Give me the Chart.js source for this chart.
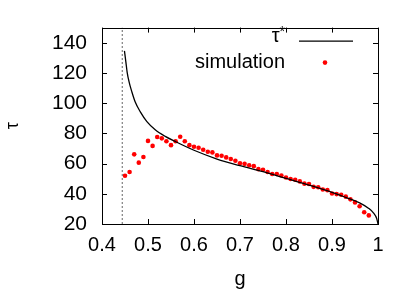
<!DOCTYPE html>
<html>
<head>
<meta charset="utf-8">
<script src="https://cdn.jsdelivr.net/npm/chart.js@4"></script>
<style>
html, body { margin: 0; padding: 0; background: #fff; }
</style>
</head>
<body>
<canvas id="tau_chart" width="415" height="291"></canvas>
<script>
// tau* curve and simulation points

const curveG = [0.4488, 0.452, 0.4547, 0.459, 0.465, 0.472, 0.483, 0.4976, 0.5157, 0.5375,
    0.560, 0.600, 0.650, 0.700, 0.750, 0.800, 0.850, 0.900, 0.930, 0.960,
    0.980, 0.990, 0.997, 1.000];
const curveTau = [134.6, 127.0, 120.4, 113.9, 107.4, 100.9, 94.4, 87.8, 82.4, 78.0,
    74.5, 68.8, 63.0, 58.6, 54.7, 50.2, 45.8, 41.0, 37.6, 34.0,
    30.3, 27.4, 23.8, 20.0];

const simG = [0.45, 0.46, 0.47, 0.48, 0.49, 0.50, 0.51, 0.52, 0.53, 0.54,
    0.55, 0.56, 0.57, 0.58, 0.59, 0.60, 0.61, 0.62, 0.63, 0.64,
    0.65, 0.66, 0.67, 0.68, 0.69, 0.70, 0.71, 0.72, 0.73, 0.74,
    0.75, 0.76, 0.77, 0.78, 0.79, 0.80, 0.81, 0.82, 0.83, 0.84,
    0.85, 0.86, 0.87, 0.88, 0.89, 0.90, 0.91, 0.92, 0.93, 0.94,
    0.95, 0.96, 0.97, 0.98];
const simTau = [51.9, 54.4, 66.1, 60.6, 64.3, 75.0, 71.7, 77.6, 76.7, 74.8,
    72.2, 74.8, 77.8, 74.8, 72.2, 71.1, 70.5, 69.1, 67.8, 67.4,
    65.4, 65.2, 64.1, 63.0, 61.9, 60.2, 59.8, 58.9, 58.3, 56.3,
    55.9, 54.4, 53.1, 53.1, 52.1, 50.8, 49.8, 49.3, 48.2, 46.7,
    46.5, 44.6, 44.3, 42.8, 42.4, 40.2, 39.8, 39.4, 38.1, 36.3,
    34.3, 31.7, 27.8, 25.7];

// critical g (dashed vertical line)
const critG = [0.444, 0.444];
const critTau = [20, 150];

const xTicks = [0.4, 0.5, 0.6, 0.7, 0.8, 0.9, 1];
const yTicks = [20, 40, 60, 80, 100, 120, 140];

const toPoints = (xs, ys) => xs.map((x, i) => ({ x: x, y: ys[i] }));

const font = 'Liberation Sans, Arial, Helvetica, sans-serif';

// gnuplot style frame with inward ticks on all four sides
const framePlugin = {
    id: 'frame',
    afterDraw(chart) {
        const ctx = chart.ctx;
        const a = chart.chartArea;
        const xs = chart.scales.x;
        const ys = chart.scales.y;
        const len = 5;
        ctx.save();
        ctx.strokeStyle = '#000';
        ctx.lineWidth = 1;
        ctx.strokeRect(Math.round(a.left) + 0.5, Math.round(a.top) + 0.5,
            Math.round(a.right - a.left), Math.round(a.bottom - a.top));
        ctx.beginPath();
        xTicks.forEach(v => {
            const px = Math.round(xs.getPixelForValue(v)) + 0.5;
            ctx.moveTo(px, a.bottom);
            ctx.lineTo(px, a.bottom - len);
            ctx.moveTo(px, a.top);
            ctx.lineTo(px, a.top + len);
        });
        yTicks.forEach(v => {
            const py = Math.round(ys.getPixelForValue(v)) + 0.5;
            ctx.moveTo(a.left, py);
            ctx.lineTo(a.left + len, py);
            ctx.moveTo(a.right, py);
            ctx.lineTo(a.right - len, py);
        });
        ctx.stroke();

        // key, top right inside the plot
        const tx = a.right - 93;
        ctx.fillStyle = '#000';
        ctx.textBaseline = 'middle';
        ctx.textAlign = 'right';
        ctx.font = '14px ' + font;
        const starW = ctx.measureText('*').width;
        ctx.fillText('*', tx, a.top + 5);
        ctx.font = '20px ' + font;
        ctx.fillText('τ', tx - starW, a.top + 9);
        ctx.fillText('simulation', tx, a.top + 35);

        ctx.beginPath();
        ctx.moveTo(a.right - 79, a.top + 13.5);
        ctx.lineTo(a.right - 25, a.top + 13.5);
        ctx.lineWidth = 1.2;
        ctx.stroke();

        ctx.beginPath();
        ctx.fillStyle = '#ff0000';
        ctx.arc(a.right - 53, a.top + 35, 2.3, 0, Math.PI * 2);
        ctx.fill();
        ctx.restore();
    }
};

const data = {
    datasets: [
        {
            label: 'crit',
            data: toPoints(critG, critTau),
            showLine: true,
            borderColor: '#666',
            borderWidth: 1,
            borderDash: [2, 2],
            pointRadius: 0
        },
        {
            label: 'τ*',
            data: toPoints(curveG, curveTau),
            showLine: true,
            borderColor: '#000',
            borderWidth: 1.3,
            cubicInterpolationMode: 'monotone',
            pointRadius: 0
        },
        {
            label: 'simulation',
            data: toPoints(simG, simTau),
            showLine: false,
            backgroundColor: '#ff0000',
            borderWidth: 0,
            pointRadius: 2.3
        },
    ]
};

const config = {
    type: 'scatter',
    data: data,
    options: {
        responsive: false,
        devicePixelRatio: 1,
        animation: false,
        layout: { padding: { left: 0, right: 37, top: 25, bottom: 0 } },
        plugins: {
            legend: { display: false },
            tooltip: { enabled: false }
        },
        scales: {
            x: {
                type: 'linear',
                min: 0.4,
                max: 1,
                afterBuildTicks: s => { s.ticks = xTicks.map(v => ({ value: v })); },
                afterFit: s => { s.height = 67; },
                grid: { display: false, drawTicks: false },
                border: { display: false },
                ticks: {
                    color: '#000',
                    padding: 9,
                    maxRotation: 0,
                    font: { family: font, size: 20 },
                    callback: v => String(+v.toFixed(1))
                },
                title: {
                    display: true,
                    text: 'g',
                    color: '#000',
                    font: { family: font, size: 20 },
                    padding: { top: 0, bottom: 0 }
                }
            },
            y: {
                min: 20,
                max: 150,
                afterBuildTicks: s => { s.ticks = yTicks.map(v => ({ value: v })); },
                afterFit: s => { s.width = 102; },
                grid: { display: false, drawTicks: false },
                border: { display: false },
                ticks: {
                    color: '#000',
                    padding: 15,
                    font: { family: font, size: 21 }
                },
                title: {
                    display: true,
                    text: 'τ',
                    color: '#000',
                    font: { family: font, size: 18 },
                    padding: { top: 2, bottom: 0 }
                }
            }
        }
    },
    plugins: [framePlugin]
};

const tauChart = new Chart(document.getElementById('tau_chart'), config);
</script>
</body>
</html>
